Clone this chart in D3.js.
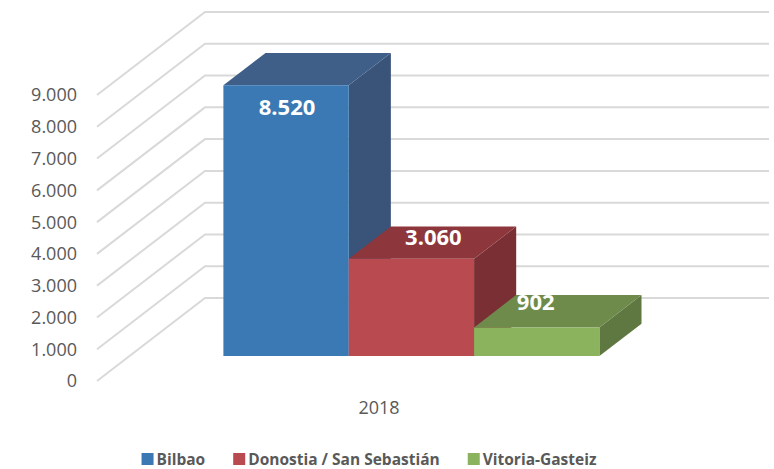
<!DOCTYPE html>
<html>
<head>
<meta charset="utf-8">
<script src="https://cdn.jsdelivr.net/npm/d3@7"></script>
<style>
  html, body { margin: 0; padding: 0; background: #ffffff; }
  svg { display: block; }
</style>
</head>
<body>
<svg id="chart" width="774" height="469"></svg>
<script>
// ---- data ----
const categories = ["2018"];
const seriesNames = ["Bilbao", "Donostia / San Sebastián", "Vitoria-Gasteiz"];
const seriesValues = [8520, 3060, 902];
const valueLabels = ["8.520", "3.060", "902"];
const tickValues = [0, 1000, 2000, 3000, 4000, 5000, 6000, 7000, 8000, 9000];
const tickLabels = ["0", "1.000", "2.000", "3.000", "4.000", "5.000", "6.000", "7.000", "8.000", "9.000"];

// ---- style / layout ----
const colors = [
  { front: "#3A79B3", top: "#3F5F89", side: "#3A5378" },
  { front: "#B94A4F", top: "#8D373D", side: "#7A2F34" },
  { front: "#8BB25C", top: "#6F8B4B", side: "#5F7842" }
];
const origin = { x: 97, y: 381 };         // front-left corner of floor
const depthVec = { dx: 108, dy: -83 };     // full depth offset
const plotW = 564;
const barZ0 = 0.3, barZ1 = 0.69;
const labelOffsets = [[1, 30], [22, -14], [-1, -17]];
const fontFamily = "'Open Sans', 'DejaVu Sans', sans-serif";

const svg = d3.select("#chart");

const x0 = d3.scaleBand().domain(categories).range([0, plotW]).paddingInner(0).paddingOuter(0.25);
const x1 = d3.scaleBand().domain(seriesNames).range([0, x0.bandwidth()]).padding(0);
const y = d3.scaleLinear().domain([0, 9000]).range([0, 286]);

// projection: (x along category axis, value, depth 0..1) -> screen
function proj(x, v, z) {
  return [origin.x + x + z * depthVec.dx, origin.y - y(v) + z * depthVec.dy];
}

const grid = svg.append("g").attr("stroke", "#D9D9D9").attr("stroke-width", 2).attr("fill", "none");
tickValues.forEach(t => {
  const a = proj(0, t, 0), b = proj(0, t, 1), c = proj(plotW, t, 1);
  grid.append("path").attr("d", `M${a[0]},${a[1]}L${b[0]},${b[1]}L${c[0]},${c[1]}`);
});

// y tick labels
const yAxis = svg.append("g").attr("font-family", fontFamily).attr("font-size", 18).attr("fill", "#595959");
tickValues.forEach((t, i) => {
  const a = proj(0, t, 0);
  yAxis.append("text").attr("x", a[0] - 20).attr("y", a[1]).attr("dy", "0.36em")
    .attr("text-anchor", "end").text(tickLabels[i]);
});

// bars
const bars = svg.append("g");
categories.forEach(cat => {
  seriesNames.forEach((s, i) => {
    const v = seriesValues[i];
    const xl = x0(cat) + x1(s), xr = xl + x1.bandwidth();
    const poly = pts => pts.map(p => p.join(",")).join(" ");
    const f = [proj(xl, 0, barZ0), proj(xr, 0, barZ0), proj(xr, v, barZ0), proj(xl, v, barZ0)];
    const top = [proj(xl, v, barZ0), proj(xr, v, barZ0), proj(xr, v, barZ1), proj(xl, v, barZ1)];
    const side = [proj(xr, 0, barZ0), proj(xr, 0, barZ1), proj(xr, v, barZ1), proj(xr, v, barZ0)];
    bars.append("polygon").attr("points", poly(side)).attr("fill", colors[i].side);
    bars.append("polygon").attr("points", poly(top)).attr("fill", colors[i].top);
    bars.append("polygon").attr("points", poly(f)).attr("fill", colors[i].front);
  });
});

// value labels
const labels = svg.append("g").attr("font-family", fontFamily).attr("font-size", 22)
  .attr("font-weight", "bold").attr("fill", "#ffffff").attr("text-anchor", "middle");
categories.forEach(cat => {
  seriesNames.forEach((s, i) => {
    const xc = x0(cat) + x1(s) + x1.bandwidth() / 2;
    const p = proj(xc, seriesValues[i], barZ0);
    labels.append("text").attr("x", p[0] + labelOffsets[i][0]).attr("y", p[1] + labelOffsets[i][1])
      .text(valueLabels[i]);
  });
});

// category label
categories.forEach(cat => {
  const p = proj(x0(cat) + x0.bandwidth() / 2, 0, 0);
  svg.append("text").attr("x", p[0]).attr("y", 414).attr("text-anchor", "middle")
    .attr("font-family", fontFamily).attr("font-size", 18).attr("fill", "#595959").text(cat);
});

// legend
const legend = svg.append("g").attr("font-family", fontFamily).attr("font-size", 15.5)
  .attr("font-weight", "bold").attr("fill", "#595959");
let cx = 0;
seriesNames.forEach((s, i) => {
  const g = legend.append("g");
  g.append("rect").attr("x", 0).attr("y", -12).attr("width", 12).attr("height", 12).attr("fill", colors[i].front);
  const t = g.append("text").attr("x", 15).attr("y", 0).text(s);
  const w = 15 + t.node().getComputedTextLength();
  g.attr("transform", `translate(${cx},465)`);
  cx += w + 28;
});
const totalW = cx - 28;
legend.attr("transform", `translate(${369 - totalW / 2},0)`);
</script>
</body>
</html>
